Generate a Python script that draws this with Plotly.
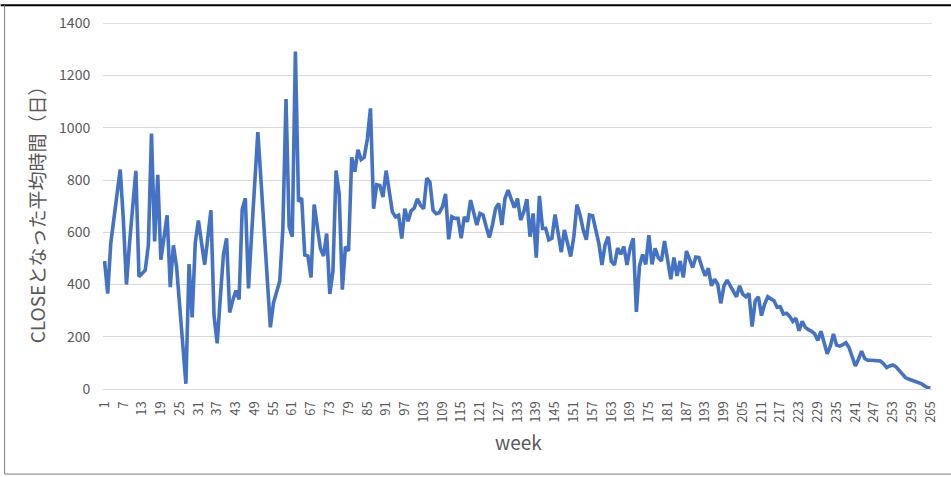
import plotly.graph_objects as go

# Category axis: week number
weeks = list(range(1, 266))

# Average days until CLOSE, per week
avg_days = [
    490, 365, 560, 650, 740, 840, 650, 400, 560, 700,
    835, 430, 445, 455, 550, 978, 565, 820, 495, 580,
    665, 390, 550, 470, 330, 180, 20, 478, 274, 560,
    645, 560, 476, 580, 684, 280, 175, 350, 514, 577,
    293, 340, 377, 343, 688, 730, 385, 590, 800, 983,
    800, 600, 400, 236, 330, 370, 413, 615, 1110, 621,
    583, 1292, 718, 731, 513, 509, 427, 706, 608, 538,
    509, 595, 364, 450, 836, 747, 380, 545, 528, 887,
    832, 916, 878, 887, 957, 1074, 690, 782, 779, 735,
    836, 747, 678, 659, 665, 576, 690, 642, 682, 693,
    728, 703, 690, 807, 792, 684, 671, 675, 697, 747, 573,
    659, 653, 653, 577, 659, 640, 723, 678, 628, 672,
    666, 621, 580, 628, 691, 710, 628, 729, 761, 727,
    694, 729, 647, 678, 727, 583, 672, 503, 739, 615,
    615, 571, 577, 668, 596, 524, 609, 552, 507, 583,
    706, 666, 609, 571, 666, 663, 602, 558, 475, 552,
    583, 488, 475, 539, 516, 545, 475, 539, 577, 295,
    471, 515, 477, 589, 477, 538, 503, 490, 566, 490,
    420, 503, 433, 490, 427, 528, 496, 465, 505, 503,
    465, 433, 462, 395, 420, 401, 328, 395, 417, 395,
    370, 353, 395, 363, 353, 366, 239, 338, 353, 281,
    325, 353, 345, 338, 313, 315, 287, 290,
    278, 259, 271, 223, 259, 236, 227, 221, 211, 186,
    221, 183, 135, 164, 211, 168, 164, 170, 177, 158,
    120, 88, 114, 145, 117, 110, 110, 110, 110, 107,
    97, 82, 88, 92, 85, 72, 57, 44, 38, 34,
    31, 27, 21, 13, 6, 4,
]

tick_weeks = list(range(1, 266, 6))
tick_labels = [str(w) for w in tick_weeks]
y_ticks = list(range(0, 1401, 200))
y_max = 1400

FONT = "Noto Sans CJK JP, Liberation Sans, Arial, sans-serif"
GRAY = "#595959"
GRID = "#D9D9D9"

fig = go.Figure(
    go.Scatter(
        x=weeks,
        y=avg_days,
        mode="lines",
        line=dict(color="#4472C4", width=3.6),
        hoverinfo="x+y",
    )
)

# plot area in pixels: x 103..937, y 19..389
L, R, T, B = 103, 937, 19, 389
W, H = 951, 477


def px_x(p):
    return (p - L) / (R - L)


def px_y(p):
    return (B - p) / (B - T)


fig.update_layout(
    width=W,
    height=H,
    margin=dict(l=L, r=W - R, t=T, b=H - B),
    paper_bgcolor="white",
    plot_bgcolor="white",
    showlegend=False,
    font=dict(family=FONT, color=GRAY),
    xaxis=dict(
        range=[0.5, 265.5],
        tickmode="array",
        tickvals=tick_weeks,
        ticktext=tick_labels,
        tickangle=-90,
        showgrid=False,
        zeroline=False,
        showline=False,
        ticks="outside",
        ticklen=6,
        tickcolor="rgba(0,0,0,0)",
        tickfont=dict(size=13, color=GRAY, family=FONT),
        fixedrange=True,
    ),
    yaxis=dict(
        range=[0, 1401],
        tickmode="array",
        tickvals=y_ticks,
        showgrid=True,
        gridcolor=GRID,
        gridwidth=1,
        zeroline=True,
        zerolinecolor=GRID,
        zerolinewidth=1,
        showline=False,
        ticks="outside",
        ticklen=9,
        tickcolor="rgba(0,0,0,0)",
        tickfont=dict(size=14, color=GRAY, family=FONT),
        fixedrange=True,
    ),
    annotations=[
        dict(
            text="CLOSEとなった平均時間（日）",
            xref="paper", yref="paper",
            x=px_x(37), y=px_y(208),
            xanchor="center", yanchor="middle",
            textangle=-90, showarrow=False,
            font=dict(size=19, color=GRAY, family=FONT),
        ),
        dict(
            text="week",
            xref="paper", yref="paper",
            x=px_x(521), y=px_y(442),
            xanchor="center", yanchor="middle",
            showarrow=False,
            font=dict(size=19, color=GRAY, family=FONT),
        ),
    ],
    shapes=[
        # top gridline (edge of plot area)
        dict(type="line", xref="paper", yref="y", layer="below",
             x0=0, x1=1, y0=y_max, y1=y_max,
             line=dict(color=GRID, width=1)),
        # chart-area border
        dict(type="line", xref="paper", yref="paper",
             x0=px_x(0), x1=px_x(960), y0=px_y(1), y1=px_y(1),
             line=dict(color="#000000", width=2)),
        dict(type="line", xref="paper", yref="paper",
             x0=px_x(4), x1=px_x(4), y0=px_y(1), y1=px_y(475),
             line=dict(color="#7F7F7F", width=1)),
        dict(type="line", xref="paper", yref="paper",
             x0=px_x(4), x1=px_x(960), y0=px_y(475), y1=px_y(475),
             line=dict(color="#7F7F7F", width=1)),
    ],
)

fig.write_html(
    "out.html",
    config={"displayModeBar": False},
    post_script="document.body.style.margin='0';document.body.style.overflow='hidden';",
)
